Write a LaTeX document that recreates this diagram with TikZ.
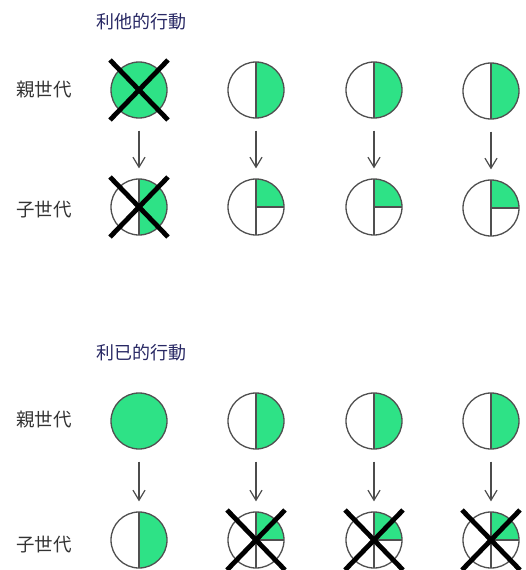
\documentclass[tikz,border=0pt]{standalone}
\usepackage{fontspec}
\newfontfamily\jp{Noto Sans CJK JP}
\usetikzlibrary{arrows.meta}
\definecolor{leafgreen}{RGB}{46,226,134}
\definecolor{rimgray}{RGB}{80,80,80}
\definecolor{titleblue}{RGB}{40,40,100}
\tikzset{
  gen/.style={draw=rimgray,line width=1.3pt,circle,minimum size=56pt,inner sep=0pt,fill=white},
  full/.style={gen,fill=leafgreen},
  half/.style={gen,path picture={
      \fill[leafgreen] (path picture bounding box.north) rectangle (path picture bounding box.south east);
      \draw[rimgray,line width=1.3pt] (path picture bounding box.north) -- (path picture bounding box.south);}},
  quarter/.style={gen,path picture={
      \fill[leafgreen] (path picture bounding box.center) rectangle (path picture bounding box.north east);
      \draw[rimgray,line width=1.3pt] (path picture bounding box.north) -- (path picture bounding box.south)
        (path picture bounding box.center) -- (path picture bounding box.east);}},
  xmark/.style={line width=4.8pt,black},
  descend/.style={draw=black!70,line width=1.2pt,-{Straight Barb[length=10pt,width=12pt]},shorten <=12pt,shorten >=10pt},
  rowlabel/.style={font=\jp\fontsize{18.5}{18.5}\selectfont,text=black!80},
  heading/.style={font=\jp\fontsize{18}{18}\selectfont,text=titleblue}
}
\begin{document}
\begin{tikzpicture}[x=1pt,y=-1pt]
  \useasboundingbox (0,0) rectangle (526,570);
  % altruistic behaviour
  \node[heading] (titleA) at (141,22) {利他的行動};
  \node[rowlabel] (parentA) at (44,90) {親世代};
  \node[rowlabel] (childA) at (44,210) {子世代};
  \node[full] (pa1) at (139,90) {};
  \node[half] (pa2) at (256,90) {};
  \node[half] (pa3) at (374,90) {};
  \node[half] (pa4) at (491,91) {};
  \node[half] (ca1) at (139,207) {};
  \node[quarter] (ca2) at (256,207) {};
  \node[quarter] (ca3) at (374,207) {};
  \node[quarter] (ca4) at (491,208) {};
  % selfish behaviour
  \node[heading] (titleB) at (141,353) {利已的行動};
  \node[rowlabel] (parentB) at (44,420) {親世代};
  \node[rowlabel] (childB) at (44,545) {子世代};
  \node[full] (pb1) at (139,421) {};
  \node[half] (pb2) at (256,421) {};
  \node[half] (pb3) at (374,421) {};
  \node[half] (pb4) at (491,421) {};
  \node[half] (cb1) at (139,540) {};
  \node[quarter] (cb2) at (256,540) {};
  \node[quarter] (cb3) at (374,540) {};
  \node[quarter] (cb4) at (491,540) {};
  \foreach \i in {1,...,4} {
    \draw[descend] (pa\i) -- (ca\i);
    \draw[descend] (pb\i) -- (cb\i);
  }
  % crossed out
  \foreach \n in {pa1,ca1,cb2,cb3,cb4}
    \draw[xmark] (\n.center) ++(-29,-30) -- ++(58,60)
                 (\n.center) ++(29,-30) -- ++(-58,60);
\end{tikzpicture}
\end{document}
